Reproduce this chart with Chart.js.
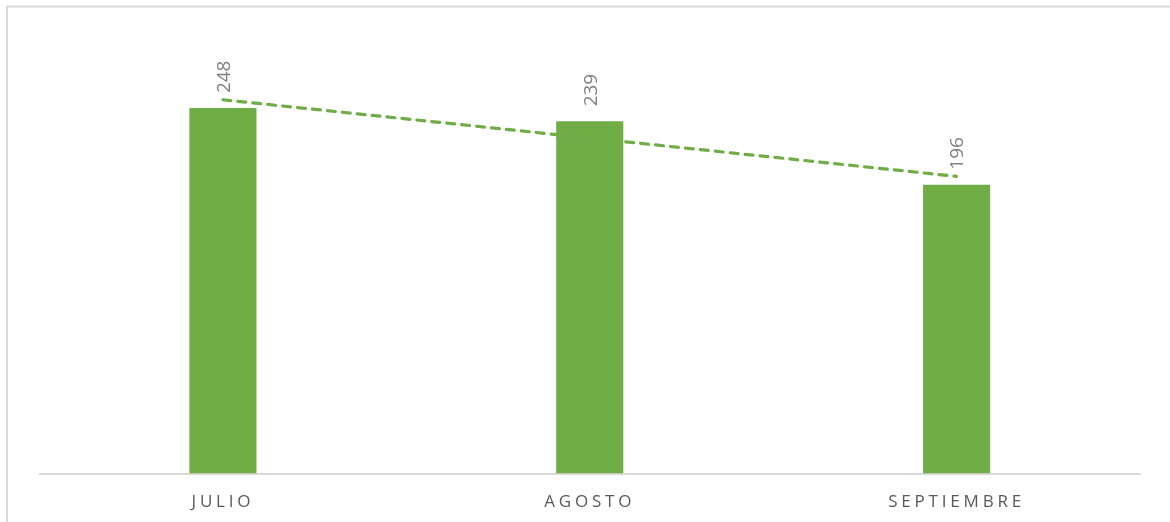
<!DOCTYPE html>
<html>
<head>
<meta charset="utf-8">
<script src="https://cdn.jsdelivr.net/npm/chart.js@4/dist/chart.umd.min.js"></script>
<style>
  html, body { margin: 0; padding: 0; background: #ffffff; }
  #wrap { position: relative; width: 1170px; height: 522px; }
</style>
</head>
<body>
<div id="wrap"><canvas id="c" width="1170" height="522"></canvas></div>
<script>
// Monthly totals
const months = ['JULIO', 'AGOSTO', 'SEPTIEMBRE'];
const totals = [248, 239, 196];
const yMin = 0;
const yMax = 300;

const green = '#70AD47';

// Least-squares linear trend over the months
function linearTrend(values) {
  const n = values.length;
  const xs = values.map((_, i) => i + 1);
  const mx = xs.reduce((a, b) => a + b, 0) / n;
  const my = values.reduce((a, b) => a + b, 0) / n;
  let num = 0, den = 0;
  xs.forEach((x, i) => { num += (x - mx) * (values[i] - my); den += (x - mx) * (x - mx); });
  const slope = num / den;
  return xs.map(x => my + slope * (x - mx));
}
const trend = linearTrend(totals);

// Light frame along the top and left edges
const framePlugin = {
  id: 'frame',
  beforeDraw(chart) {
    const ctx = chart.ctx;
    ctx.save();
    ctx.strokeStyle = '#d9d9d9';
    ctx.lineWidth = 2;
    ctx.beginPath();
    ctx.moveTo(7, chart.height);
    ctx.lineTo(7, 6.5);
    ctx.lineTo(chart.width, 6.5);
    ctx.stroke();
    ctx.restore();
    // spaced-out category labels
    ctx.letterSpacing = '3.8px';
  },
  beforeDatasetsDraw(chart) {
    chart.ctx.letterSpacing = '0px';
  }
};

// Rotated value labels above each bar
const valueLabels = {
  id: 'valueLabels',
  afterDatasetsDraw(chart) {
    const ctx = chart.ctx;
    const meta = chart.getDatasetMeta(0);
    ctx.save();
    ctx.fillStyle = '#7f7f7f';
    ctx.font = '19px "Open Sans", sans-serif';
    ctx.textAlign = 'left';
    ctx.textBaseline = 'middle';
    meta.data.forEach((bar, i) => {
      ctx.save();
      ctx.translate(bar.x + 1.5, bar.y - 15);
      ctx.rotate(-Math.PI / 2);
      ctx.fillText(String(totals[i]), 0, 0);
      ctx.restore();
    });
    ctx.restore();
  }
};

new Chart(document.getElementById('c'), {
  data: {
    labels: months,
    datasets: [
      {
        type: 'bar',
        data: totals,
        backgroundColor: green,
        borderWidth: 0,
        categoryPercentage: 1,
        barPercentage: 0.183,
        order: 2
      },
      {
        type: 'line',
        data: trend,
        borderColor: green,
        borderWidth: 3.2,
        borderDash: [8, 7],
        borderCapStyle: 'round',
        pointRadius: 0,
        fill: false,
        tension: 0,
        order: 1
      }
    ]
  },
  options: {
    responsive: false,
    animation: false,
    layout: { padding: { top: 31.5, left: 39.5, right: 30, bottom: 0 } },
    plugins: { legend: { display: false }, tooltip: { enabled: false } },
    scales: {
      x: {
        offset: true,
        grid: { display: false, drawTicks: false },
        border: { display: true, color: '#d9d9d9', width: 2 },
        ticks: {
          color: '#595959',
          font: { family: '"Open Sans", sans-serif', size: 17 },
          padding: 18.5
        },
        afterFit(scale) { scale.height = 48.5; }
      },
      y: {
        display: false,
        min: yMin,
        max: yMax
      }
    }
  },
  plugins: [framePlugin, valueLabels]
});
</script>
</body>
</html>
